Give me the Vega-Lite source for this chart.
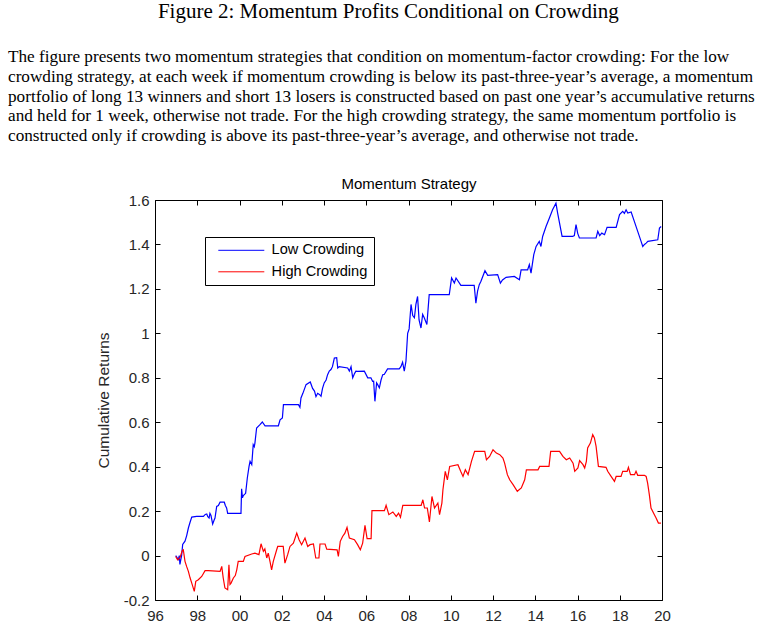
{
"$schema": "https://vega.github.io/schema/vega-lite/v6.json",
"padding": {"left": 7, "top": 0, "right": 0, "bottom": 0},
"background": "white",
"title": {"text": "Figure 2: Momentum Profits Conditional on Crowding", "anchor": "middle", "dx": 7, "font": "Liberation Serif", "fontSize": 21, "fontWeight": "normal", "color": "#000", "offset": 26},
"config": {
  "view": {"stroke": "#000", "strokeWidth": 1},
  "axis": {"grid": false, "domain": false, "tickColor": "#000", "tickWidth": 1, "tickSize": -5, "labelFont": "Liberation Sans", "labelFontSize": 15, "labelColor": "#262626", "titleFont": "Liberation Sans", "titleFontSize": 15.5, "titleFontWeight": "normal", "titleColor": "#262626", "labelFlush": false, "labelOverlap": false}
},
"vconcat": [{
  "title": {"text": [
    "The figure presents two momentum strategies that condition on momentum-factor crowding: For the low",
    "crowding strategy, at each week if momentum crowding is below its past-three-year’s average, a momentum",
    "portfolio of long 13 winners and short 13 losers is constructed based on past one year’s accumulative returns",
    "and held for 1 week, otherwise not trade. For the high crowding strategy, the same momentum portfolio is",
    "constructed only if crowding is above its past-three-year’s average, and otherwise not trade."],
    "anchor": "start", "frame": "group", "dx": -147, "font": "Liberation Serif", "fontSize": 17.2, "fontWeight": "normal", "lineHeight": 19.8, "color": "#000", "offset": 32},
  "width": 507,
  "height": 400,
  "data": {"values": [
{"s":"Low Crowding","t":1996.98,"v":0.0},{"s":"Low Crowding","t":1997.05,"v":-0.01},{"s":"Low Crowding","t":1997.10,"v":-0.018},{"s":"Low Crowding","t":1997.15,"v":0.0},{"s":"Low Crowding","t":1997.18,"v":-0.04},{"s":"Low Crowding","t":1997.22,"v":-0.02},{"s":"Low Crowding","t":1997.26,"v":0.0},{"s":"Low Crowding","t":1997.31,"v":0.05},{"s":"Low Crowding","t":1997.42,"v":0.065},{"s":"Low Crowding","t":1997.50,"v":0.09},{"s":"Low Crowding","t":1997.58,"v":0.124},{"s":"Low Crowding","t":1997.66,"v":0.15},{"s":"Low Crowding","t":1997.74,"v":0.173},{"s":"Low Crowding","t":1997.97,"v":0.176},{"s":"Low Crowding","t":1998.29,"v":0.176},{"s":"Low Crowding","t":1998.38,"v":0.185},{"s":"Low Crowding","t":1998.45,"v":0.187},{"s":"Low Crowding","t":1998.50,"v":0.175},{"s":"Low Crowding","t":1998.56,"v":0.169},{"s":"Low Crowding","t":1998.60,"v":0.19},{"s":"Low Crowding","t":1998.65,"v":0.18},{"s":"Low Crowding","t":1998.73,"v":0.142},{"s":"Low Crowding","t":1998.80,"v":0.16},{"s":"Low Crowding","t":1998.84,"v":0.169},{"s":"Low Crowding","t":1998.92,"v":0.221},{"s":"Low Crowding","t":1999.00,"v":0.225},{"s":"Low Crowding","t":1999.08,"v":0.24},{"s":"Low Crowding","t":1999.28,"v":0.24},{"s":"Low Crowding","t":1999.33,"v":0.225},{"s":"Low Crowding","t":1999.39,"v":0.214},{"s":"Low Crowding","t":1999.44,"v":0.19},{"s":"Low Crowding","t":1999.71,"v":0.19},{"s":"Low Crowding","t":2000.07,"v":0.19},{"s":"Low Crowding","t":2000.10,"v":0.30},{"s":"Low Crowding","t":2000.14,"v":0.26},{"s":"Low Crowding","t":2000.18,"v":0.27},{"s":"Low Crowding","t":2000.29,"v":0.28},{"s":"Low Crowding","t":2000.37,"v":0.349},{"s":"Low Crowding","t":2000.45,"v":0.40},{"s":"Low Crowding","t":2000.50,"v":0.424},{"s":"Low Crowding","t":2000.58,"v":0.409},{"s":"Low Crowding","t":2000.65,"v":0.499},{"s":"Low Crowding","t":2000.70,"v":0.49},{"s":"Low Crowding","t":2000.73,"v":0.506},{"s":"Low Crowding","t":2000.81,"v":0.574},{"s":"Low Crowding","t":2000.97,"v":0.589},{"s":"Low Crowding","t":2001.08,"v":0.601},{"s":"Low Crowding","t":2001.21,"v":0.584},{"s":"Low Crowding","t":2001.84,"v":0.584},{"s":"Low Crowding","t":2001.92,"v":0.611},{"s":"Low Crowding","t":2002.03,"v":0.619},{"s":"Low Crowding","t":2002.08,"v":0.679},{"s":"Low Crowding","t":2002.79,"v":0.679},{"s":"Low Crowding","t":2002.86,"v":0.667},{"s":"Low Crowding","t":2002.91,"v":0.709},{"s":"Low Crowding","t":2003.00,"v":0.73},{"s":"Low Crowding","t":2003.15,"v":0.769},{"s":"Low Crowding","t":2003.35,"v":0.781},{"s":"Low Crowding","t":2003.46,"v":0.752},{"s":"Low Crowding","t":2003.55,"v":0.74},{"s":"Low Crowding","t":2003.62,"v":0.715},{"s":"Low Crowding","t":2003.70,"v":0.73},{"s":"Low Crowding","t":2003.78,"v":0.725},{"s":"Low Crowding","t":2003.86,"v":0.717},{"s":"Low Crowding","t":2003.93,"v":0.752},{"s":"Low Crowding","t":2004.01,"v":0.777},{"s":"Low Crowding","t":2004.10,"v":0.79},{"s":"Low Crowding","t":2004.17,"v":0.814},{"s":"Low Crowding","t":2004.25,"v":0.83},{"s":"Low Crowding","t":2004.33,"v":0.837},{"s":"Low Crowding","t":2004.40,"v":0.85},{"s":"Low Crowding","t":2004.49,"v":0.889},{"s":"Low Crowding","t":2004.60,"v":0.89},{"s":"Low Crowding","t":2004.65,"v":0.844},{"s":"Low Crowding","t":2004.72,"v":0.85},{"s":"Low Crowding","t":2005.12,"v":0.844},{"s":"Low Crowding","t":2005.20,"v":0.83},{"s":"Low Crowding","t":2005.28,"v":0.85},{"s":"Low Crowding","t":2005.36,"v":0.80},{"s":"Low Crowding","t":2005.45,"v":0.82},{"s":"Low Crowding","t":2005.51,"v":0.83},{"s":"Low Crowding","t":2005.59,"v":0.829},{"s":"Low Crowding","t":2005.91,"v":0.83},{"s":"Low Crowding","t":2006.07,"v":0.80},{"s":"Low Crowding","t":2006.22,"v":0.80},{"s":"Low Crowding","t":2006.30,"v":0.784},{"s":"Low Crowding","t":2006.35,"v":0.785},{"s":"Low Crowding","t":2006.41,"v":0.694},{"s":"Low Crowding","t":2006.49,"v":0.777},{"s":"Low Crowding","t":2006.54,"v":0.769},{"s":"Low Crowding","t":2006.62,"v":0.755},{"s":"Low Crowding","t":2006.70,"v":0.79},{"s":"Low Crowding","t":2006.78,"v":0.814},{"s":"Low Crowding","t":2006.85,"v":0.815},{"s":"Low Crowding","t":2007.01,"v":0.84},{"s":"Low Crowding","t":2007.56,"v":0.84},{"s":"Low Crowding","t":2007.64,"v":0.85},{"s":"Low Crowding","t":2007.72,"v":0.87},{"s":"Low Crowding","t":2007.80,"v":0.83},{"s":"Low Crowding","t":2007.88,"v":0.875},{"s":"Low Crowding","t":2007.96,"v":1.0},{"s":"Low Crowding","t":2008.03,"v":1.02},{"s":"Low Crowding","t":2008.12,"v":1.13},{"s":"Low Crowding","t":2008.20,"v":1.08},{"s":"Low Crowding","t":2008.28,"v":1.07},{"s":"Low Crowding","t":2008.35,"v":1.13},{"s":"Low Crowding","t":2008.43,"v":1.166},{"s":"Low Crowding","t":2008.50,"v":1.06},{"s":"Low Crowding","t":2008.59,"v":1.024},{"s":"Low Crowding","t":2008.67,"v":1.085},{"s":"Low Crowding","t":2008.75,"v":1.069},{"s":"Low Crowding","t":2008.87,"v":1.04},{"s":"Low Crowding","t":2008.98,"v":1.174},{"s":"Low Crowding","t":2009.93,"v":1.174},{"s":"Low Crowding","t":2010.04,"v":1.249},{"s":"Low Crowding","t":2010.17,"v":1.226},{"s":"Low Crowding","t":2010.25,"v":1.249},{"s":"Low Crowding","t":2010.48,"v":1.216},{"s":"Low Crowding","t":2011.11,"v":1.216},{"s":"Low Crowding","t":2011.19,"v":1.136},{"s":"Low Crowding","t":2011.27,"v":1.19},{"s":"Low Crowding","t":2011.35,"v":1.219},{"s":"Low Crowding","t":2011.43,"v":1.234},{"s":"Low Crowding","t":2011.62,"v":1.282},{"s":"Low Crowding","t":2011.75,"v":1.261},{"s":"Low Crowding","t":2012.22,"v":1.264},{"s":"Low Crowding","t":2012.35,"v":1.226},{"s":"Low Crowding","t":2012.45,"v":1.24},{"s":"Low Crowding","t":2012.62,"v":1.252},{"s":"Low Crowding","t":2013.01,"v":1.256},{"s":"Low Crowding","t":2013.25,"v":1.241},{"s":"Low Crowding","t":2013.33,"v":1.286},{"s":"Low Crowding","t":2013.64,"v":1.286},{"s":"Low Crowding","t":2013.72,"v":1.309},{"s":"Low Crowding","t":2013.80,"v":1.271},{"s":"Low Crowding","t":2013.93,"v":1.354},{"s":"Low Crowding","t":2014.04,"v":1.391},{"s":"Low Crowding","t":2014.19,"v":1.414},{"s":"Low Crowding","t":2014.27,"v":1.391},{"s":"Low Crowding","t":2014.35,"v":1.436},{"s":"Low Crowding","t":2014.51,"v":1.481},{"s":"Low Crowding","t":2014.67,"v":1.519},{"s":"Low Crowding","t":2014.82,"v":1.556},{"s":"Low Crowding","t":2014.90,"v":1.571},{"s":"Low Crowding","t":2014.98,"v":1.586},{"s":"Low Crowding","t":2015.06,"v":1.541},{"s":"Low Crowding","t":2015.27,"v":1.436},{"s":"Low Crowding","t":2015.77,"v":1.436},{"s":"Low Crowding","t":2015.85,"v":1.44},{"s":"Low Crowding","t":2015.93,"v":1.489},{"s":"Low Crowding","t":2016.01,"v":1.45},{"s":"Low Crowding","t":2016.09,"v":1.429},{"s":"Low Crowding","t":2016.88,"v":1.429},{"s":"Low Crowding","t":2016.96,"v":1.459},{"s":"Low Crowding","t":2017.05,"v":1.44},{"s":"Low Crowding","t":2017.15,"v":1.451},{"s":"Low Crowding","t":2017.28,"v":1.444},{"s":"Low Crowding","t":2017.40,"v":1.477},{"s":"Low Crowding","t":2017.83,"v":1.477},{"s":"Low Crowding","t":2017.99,"v":1.534},{"s":"Low Crowding","t":2018.14,"v":1.549},{"s":"Low Crowding","t":2018.22,"v":1.54},{"s":"Low Crowding","t":2018.30,"v":1.556},{"s":"Low Crowding","t":2018.38,"v":1.541},{"s":"Low Crowding","t":2018.54,"v":1.546},{"s":"Low Crowding","t":2018.69,"v":1.504},{"s":"Low Crowding","t":2018.85,"v":1.459},{"s":"Low Crowding","t":2019.01,"v":1.414},{"s":"Low Crowding","t":2019.09,"v":1.391},{"s":"Low Crowding","t":2019.17,"v":1.40},{"s":"Low Crowding","t":2019.25,"v":1.406},{"s":"Low Crowding","t":2019.33,"v":1.414},{"s":"Low Crowding","t":2019.80,"v":1.421},{"s":"Low Crowding","t":2019.88,"v":1.474},{"s":"Low Crowding","t":2019.96,"v":1.481},
{"s":"High Crowding","t":1996.98,"v":-0.004},{"s":"High Crowding","t":1997.07,"v":-0.019},{"s":"High Crowding","t":1997.18,"v":-0.011},{"s":"High Crowding","t":1997.29,"v":0.022},{"s":"High Crowding","t":1997.34,"v":0.026},{"s":"High Crowding","t":1997.42,"v":-0.026},{"s":"High Crowding","t":1997.50,"v":-0.05},{"s":"High Crowding","t":1997.58,"v":-0.071},{"s":"High Crowding","t":1997.66,"v":-0.10},{"s":"High Crowding","t":1997.74,"v":-0.124},{"s":"High Crowding","t":1997.86,"v":-0.161},{"s":"High Crowding","t":1997.93,"v":-0.116},{"s":"High Crowding","t":1998.05,"v":-0.109},{"s":"High Crowding","t":1998.21,"v":-0.094},{"s":"High Crowding","t":1998.37,"v":-0.068},{"s":"High Crowding","t":1998.52,"v":-0.068},{"s":"High Crowding","t":1999.08,"v":-0.071},{"s":"High Crowding","t":1999.16,"v":-0.049},{"s":"High Crowding","t":1999.23,"v":-0.101},{"s":"High Crowding","t":1999.31,"v":-0.146},{"s":"High Crowding","t":1999.44,"v":-0.154},{"s":"High Crowding","t":1999.50,"v":-0.041},{"s":"High Crowding","t":1999.55,"v":-0.13},{"s":"High Crowding","t":1999.60,"v":-0.124},{"s":"High Crowding","t":1999.71,"v":-0.101},{"s":"High Crowding","t":1999.80,"v":-0.09},{"s":"High Crowding","t":1999.87,"v":-0.064},{"s":"High Crowding","t":1999.94,"v":-0.026},{"s":"High Crowding","t":2000.18,"v":-0.026},{"s":"High Crowding","t":2000.26,"v":-0.004},{"s":"High Crowding","t":2000.58,"v":0.007},{"s":"High Crowding","t":2000.73,"v":0.011},{"s":"High Crowding","t":2000.92,"v":0.004},{"s":"High Crowding","t":2001.02,"v":0.053},{"s":"High Crowding","t":2001.13,"v":0.019},{"s":"High Crowding","t":2001.20,"v":0.03},{"s":"High Crowding","t":2001.29,"v":-0.011},{"s":"High Crowding","t":2001.36,"v":0.011},{"s":"High Crowding","t":2001.45,"v":-0.03},{"s":"High Crowding","t":2001.52,"v":-0.064},{"s":"High Crowding","t":2001.60,"v":-0.026},{"s":"High Crowding","t":2001.76,"v":0.026},{"s":"High Crowding","t":2001.81,"v":0.041},{"s":"High Crowding","t":2002.07,"v":0.041},{"s":"High Crowding","t":2002.15,"v":-0.034},{"s":"High Crowding","t":2002.28,"v":0.004},{"s":"High Crowding","t":2002.39,"v":0.041},{"s":"High Crowding","t":2002.55,"v":0.056},{"s":"High Crowding","t":2002.71,"v":0.101},{"s":"High Crowding","t":2002.82,"v":0.071},{"s":"High Crowding","t":2002.94,"v":0.049},{"s":"High Crowding","t":2003.10,"v":0.079},{"s":"High Crowding","t":2003.23,"v":0.041},{"s":"High Crowding","t":2003.34,"v":0.049},{"s":"High Crowding","t":2003.50,"v":0.052},{"s":"High Crowding","t":2003.61,"v":-0.011},{"s":"High Crowding","t":2003.76,"v":-0.011},{"s":"High Crowding","t":2003.81,"v":0.052},{"s":"High Crowding","t":2004.05,"v":0.052},{"s":"High Crowding","t":2004.13,"v":0.029},{"s":"High Crowding","t":2004.62,"v":0.026},{"s":"High Crowding","t":2004.68,"v":-0.004},{"s":"High Crowding","t":2004.77,"v":0.064},{"s":"High Crowding","t":2004.88,"v":0.086},{"s":"High Crowding","t":2004.99,"v":0.101},{"s":"High Crowding","t":2005.09,"v":0.127},{"s":"High Crowding","t":2005.20,"v":0.079},{"s":"High Crowding","t":2005.44,"v":0.071},{"s":"High Crowding","t":2005.59,"v":0.049},{"s":"High Crowding","t":2005.72,"v":0.026},{"s":"High Crowding","t":2005.83,"v":0.056},{"s":"High Crowding","t":2005.94,"v":0.136},{"s":"High Crowding","t":2006.04,"v":0.076},{"s":"High Crowding","t":2006.23,"v":0.076},{"s":"High Crowding","t":2006.27,"v":0.202},{"s":"High Crowding","t":2006.86,"v":0.202},{"s":"High Crowding","t":2006.94,"v":0.226},{"s":"High Crowding","t":2007.07,"v":0.184},{"s":"High Crowding","t":2007.26,"v":0.196},{"s":"High Crowding","t":2007.42,"v":0.176},{"s":"High Crowding","t":2007.53,"v":0.191},{"s":"High Crowding","t":2007.62,"v":0.172},{"s":"High Crowding","t":2007.73,"v":0.226},{"s":"High Crowding","t":2008.60,"v":0.226},{"s":"High Crowding","t":2008.68,"v":0.251},{"s":"High Crowding","t":2008.76,"v":0.214},{"s":"High Crowding","t":2008.89,"v":0.214},{"s":"High Crowding","t":2008.99,"v":0.151},{"s":"High Crowding","t":2009.11,"v":0.266},{"s":"High Crowding","t":2009.23,"v":0.214},{"s":"High Crowding","t":2009.39,"v":0.236},{"s":"High Crowding","t":2009.47,"v":0.184},{"s":"High Crowding","t":2009.58,"v":0.236},{"s":"High Crowding","t":2009.63,"v":0.296},{"s":"High Crowding","t":2009.74,"v":0.379},{"s":"High Crowding","t":2009.84,"v":0.341},{"s":"High Crowding","t":2009.95,"v":0.401},{"s":"High Crowding","t":2010.34,"v":0.409},{"s":"High Crowding","t":2010.47,"v":0.379},{"s":"High Crowding","t":2010.58,"v":0.356},{"s":"High Crowding","t":2010.69,"v":0.386},{"s":"High Crowding","t":2010.82,"v":0.364},{"s":"High Crowding","t":2010.98,"v":0.424},{"s":"High Crowding","t":2011.13,"v":0.469},{"s":"High Crowding","t":2011.61,"v":0.469},{"s":"High Crowding","t":2011.69,"v":0.431},{"s":"High Crowding","t":2011.84,"v":0.446},{"s":"High Crowding","t":2012.00,"v":0.476},{"s":"High Crowding","t":2012.16,"v":0.461},{"s":"High Crowding","t":2012.32,"v":0.454},{"s":"High Crowding","t":2012.47,"v":0.439},{"s":"High Crowding","t":2012.55,"v":0.416},{"s":"High Crowding","t":2012.68,"v":0.364},{"s":"High Crowding","t":2012.79,"v":0.341},{"s":"High Crowding","t":2012.95,"v":0.319},{"s":"High Crowding","t":2013.15,"v":0.289},{"s":"High Crowding","t":2013.34,"v":0.304},{"s":"High Crowding","t":2013.50,"v":0.341},{"s":"High Crowding","t":2013.58,"v":0.386},{"s":"High Crowding","t":2014.13,"v":0.386},{"s":"High Crowding","t":2014.21,"v":0.401},{"s":"High Crowding","t":2014.65,"v":0.401},{"s":"High Crowding","t":2014.73,"v":0.469},{"s":"High Crowding","t":2015.15,"v":0.469},{"s":"High Crowding","t":2015.31,"v":0.446},{"s":"High Crowding","t":2015.47,"v":0.431},{"s":"High Crowding","t":2015.63,"v":0.439},{"s":"High Crowding","t":2015.79,"v":0.416},{"s":"High Crowding","t":2015.87,"v":0.379},{"s":"High Crowding","t":2016.02,"v":0.394},{"s":"High Crowding","t":2016.10,"v":0.427},{"s":"High Crowding","t":2016.26,"v":0.409},{"s":"High Crowding","t":2016.34,"v":0.394},{"s":"High Crowding","t":2016.42,"v":0.424},{"s":"High Crowding","t":2016.48,"v":0.484},{"s":"High Crowding","t":2016.61,"v":0.506},{"s":"High Crowding","t":2016.72,"v":0.544},{"s":"High Crowding","t":2016.80,"v":0.529},{"s":"High Crowding","t":2016.88,"v":0.491},{"s":"High Crowding","t":2016.99,"v":0.401},{"s":"High Crowding","t":2017.35,"v":0.397},{"s":"High Crowding","t":2017.43,"v":0.379},{"s":"High Crowding","t":2017.59,"v":0.356},{"s":"High Crowding","t":2017.75,"v":0.334},{"s":"High Crowding","t":2017.83,"v":0.356},{"s":"High Crowding","t":2018.06,"v":0.356},{"s":"High Crowding","t":2018.14,"v":0.379},{"s":"High Crowding","t":2018.35,"v":0.379},{"s":"High Crowding","t":2018.41,"v":0.397},{"s":"High Crowding","t":2018.51,"v":0.364},{"s":"High Crowding","t":2018.70,"v":0.364},{"s":"High Crowding","t":2018.77,"v":0.379},{"s":"High Crowding","t":2018.85,"v":0.361},{"s":"High Crowding","t":2019.17,"v":0.361},{"s":"High Crowding","t":2019.25,"v":0.356},{"s":"High Crowding","t":2019.32,"v":0.326},{"s":"High Crowding","t":2019.40,"v":0.274},{"s":"High Crowding","t":2019.48,"v":0.214},{"s":"High Crowding","t":2019.64,"v":0.184},{"s":"High Crowding","t":2019.72,"v":0.169},{"s":"High Crowding","t":2019.83,"v":0.146},{"s":"High Crowding","t":2019.95,"v":0.146}
  ]},
  "layer": [
    {
      "mark": {"type": "line", "strokeWidth": 1.2, "clip": true},
      "encoding": {
        "x": {"field": "t", "type": "quantitative", "scale": {"domain": [1996, 2020], "nice": false, "zero": false},
              "axis": {"orient": "bottom", "values": [1996,1998,2000,2002,2004,2006,2008,2010,2012,2014,2016,2018,2020], "labelExpr": "slice(toString(datum.value), 2)", "labelPadding": 13, "title": null}},
        "y": {"field": "v", "type": "quantitative", "scale": {"domain": [-0.2, 1.6], "nice": false, "zero": false},
              "axis": {"orient": "left", "values": [-0.2,0,0.2,0.4,0.6,0.8,1,1.2,1.4,1.6], "labelExpr": "toString(datum.value)", "labelPadding": 11, "title": "Cumulative Returns", "titlePadding": 12}},
        "color": {"field": "s", "type": "nominal",
                  "scale": {"domain": ["Low Crowding", "High Crowding"], "range": ["#0000ff", "#ff0000"]},
                  "legend": {"orient": "none", "legendX": 50, "legendY": 37, "title": null, "direction": "vertical", "symbolType": "M0,0H9.2", "symbolSize": 100, "symbolStrokeWidth": 1, "labelOffset": 46, "labelFont": "Liberation Sans", "labelFontSize": 14.6, "labelColor": "#000", "strokeColor": "#000", "fillColor": "#fff", "padding": 6, "rowPadding": 6.5}}
      }
    },
    {
      "mark": {"type": "line", "strokeOpacity": 0},
      "encoding": {
        "x": {"field": "t", "type": "quantitative",
              "axis": {"orient": "top", "values": [1996,1998,2000,2002,2004,2006,2008,2010,2012,2014,2016,2018,2020], "labels": false, "title": "Momentum Strategy", "titlePadding": 8, "titleColor": "#000", "titleFontSize": 15}},
        "y": {"field": "v", "type": "quantitative",
              "axis": {"orient": "right", "values": [-0.2,0,0.2,0.4,0.6,0.8,1,1.2,1.4,1.6], "labels": false, "title": null}}
      }
    }
  ],
  "resolve": {"axis": {"x": "independent", "y": "independent"}}
}]
}
